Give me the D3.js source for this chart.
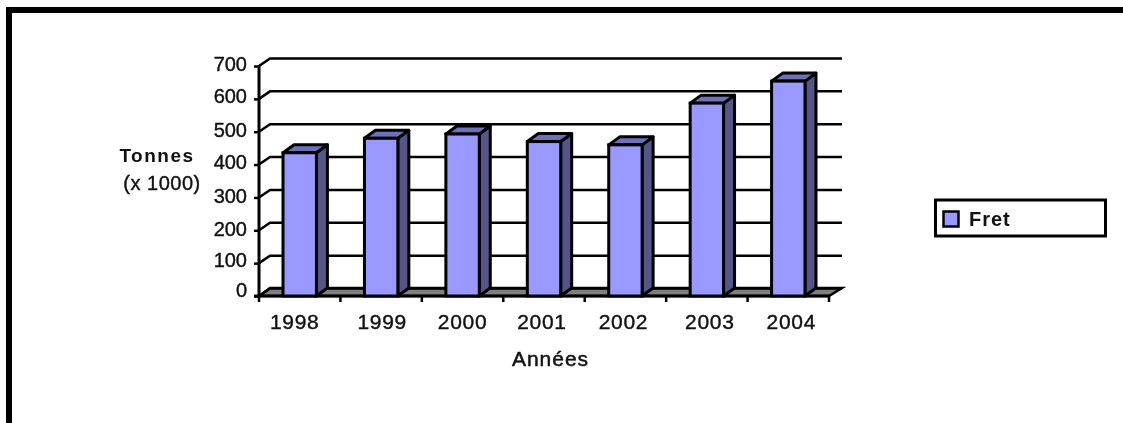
<!DOCTYPE html>
<html>
<head>
<meta charset="utf-8">
<script src="https://d3js.org/d3.v7.min.js"></script>
<style>
html, body { margin: 0; padding: 0; background: #fff; }
svg { display: block; filter: blur(0.4px); }
text { font-family: "Liberation Sans", Arial, sans-serif; fill: #111; }
</style>
</head>
<body>
<script>
const years = ["1998", "1999", "2000", "2001", "2002", "2003", "2004"];
const fret = [436, 480, 493, 470, 460, 587, 654];
const yTicks = [0, 100, 200, 300, 400, 500, 600, 700];

const svgWidth = 1123;
const svgHeight = 423;
const depthX = 11; //3D offset of the chart's back wall
const depthY = 8;
const axisRight = 829;

//The original labels are not evenly placed, these nudge them by a few pixels.
const xLabelNudge = [-5, 1, 0, -2, -2, 3, 3];
const yLabelNudge = [-6, -3, -1, -1, -2, -2, -3, -2];

const xScale = d3.scaleBand().domain(years).range([259, axisRight]).paddingInner(0.59).paddingOuter(0.295);
const yScale = d3.scaleLinear().domain([0, 700]).range([296, 66]);

const svg = d3.select("body").append("svg")
  .attr("width", svgWidth)
  .attr("height", svgHeight);

//Page frame, only top and left are visible.
svg.append("path")
  .attr("d", "M9,423V10H1123")
  .attr("fill", "none")
  .attr("stroke", "#000")
  .attr("stroke-width", 6);

//Floor of the 3D box.
svg.append("path")
  .attr("d", `M259,${yScale(0)}l${depthX},${-depthY}H${axisRight + depthX + 2}l${-depthX - 2},${depthY}Z`)
  .attr("fill", "#808080")
  .attr("stroke", "#000")
  .attr("stroke-width", 2.5);

//Gridlines with their slanted part on the side wall.
svg.append("g").selectAll("path")
  .data(yTicks)
  .enter()
  .append("path")
  .attr("d", (d) => `M259,${yScale(d)}l${depthX},${-depthY + 0.5}H${axisRight + depthX + 2}`)
  .attr("fill", "none")
  .attr("stroke", "#000")
  .attr("stroke-width", 2.5);

//Axes.
const yAxis = d3.axisLeft(yScale).tickValues(yTicks).tickSize(5).tickPadding(7);
const xAxis = d3.axisBottom(xScale).tickSize(0).tickPadding(18);

const yG = svg.append("g").attr("transform", "translate(259,0)").call(yAxis);
const xG = svg.append("g").attr("transform", "translate(0,296)").call(xAxis);

[yG, xG].forEach((g) => {
  g.selectAll("path.domain").attr("stroke", "#000").attr("stroke-width", 3);
  g.selectAll("line").attr("stroke", "#000").attr("stroke-width", 2.5);
  g.selectAll("text")
    .attr("font-size", 20)
    .attr("font-family", null)
    .attr("stroke", "#111")
    .attr("stroke-width", 0.4);
});
yG.select("path.domain").attr("d", "M0,65V297");
xG.select("path.domain").attr("d", `M254,0H${axisRight + 1}`);

yG.selectAll("text").attr("y", (d, i) => yLabelNudge[i]);
xG.selectAll("text")
  .attr("x", (d, i) => xLabelNudge[i])
  .attr("font-size", 21)
  .attr("letter-spacing", 0.7);

//Category ticks sit between the bars.
const step = xScale.step();
svg.append("g").selectAll("line")
  .data(d3.range(years.length + 1))
  .enter()
  .append("line")
  .attr("x1", (i) => 259 + i * step)
  .attr("x2", (i) => 259 + i * step)
  .attr("y1", 296)
  .attr("y2", 302)
  .attr("stroke", "#000")
  .attr("stroke-width", 2.5);

//Bars: side, top, then front.
const bars = svg.append("g").selectAll("g")
  .data(years.map((y, i) => ({ year: y, value: fret[i] })))
  .enter()
  .append("g");

bars.append("path")
  .attr("d", (d) => {
    const x = xScale(d.year) + xScale.bandwidth();
    const top = yScale(d.value);
    return `M${x},${top}l${depthX},${-depthY}V${yScale(0) - depthY}L${x},${yScale(0)}Z`;
  })
  .attr("fill", "#55558a")
  .attr("stroke", "#000")
  .attr("stroke-width", 3)
  .attr("stroke-linejoin", "round");

bars.append("path")
  .attr("d", (d) => {
    const x = xScale(d.year);
    const top = yScale(d.value);
    return `M${x},${top}l${depthX},${-depthY}h${xScale.bandwidth()}l${-depthX},${depthY}Z`;
  })
  .attr("fill", "#7070b8")
  .attr("stroke", "#000")
  .attr("stroke-width", 3)
  .attr("stroke-linejoin", "round");

bars.append("rect")
  .attr("x", (d) => xScale(d.year))
  .attr("y", (d) => yScale(d.value))
  .attr("width", xScale.bandwidth())
  .attr("height", (d) => yScale(0) - yScale(d.value))
  .attr("fill", "#9999ff")
  .attr("stroke", "#000")
  .attr("stroke-width", 3);

//Axis titles.
svg.append("text")
  .attr("x", 157)
  .attr("y", 162)
  .attr("text-anchor", "middle")
  .attr("font-size", 19)
  .attr("font-weight", "bold")
  .attr("letter-spacing", 1.5)
  .text("Tonnes");

svg.append("text")
  .attr("x", 162)
  .attr("y", 190)
  .attr("text-anchor", "middle")
  .attr("font-size", 20)
  .attr("letter-spacing", 0.5)
  .attr("stroke", "#111")
  .attr("stroke-width", 0.4)
  .text("(x 1000)");

svg.append("text")
  .attr("x", 550.5)
  .attr("y", 366)
  .attr("text-anchor", "middle")
  .attr("font-size", 21)
  .attr("letter-spacing", 1)
  .attr("stroke", "#111")
  .attr("stroke-width", 0.5)
  .text("Années");

//Legend.
svg.append("rect")
  .attr("x", 935.5)
  .attr("y", 200)
  .attr("width", 170)
  .attr("height", 36)
  .attr("fill", "#fff")
  .attr("stroke", "#000")
  .attr("stroke-width", 3);

svg.append("rect")
  .attr("x", 943.5)
  .attr("y", 211.5)
  .attr("width", 15)
  .attr("height", 15)
  .attr("fill", "#9999ff")
  .attr("stroke", "#000")
  .attr("stroke-width", 2.5);

svg.append("text")
  .attr("x", 969)
  .attr("y", 226)
  .attr("font-size", 20)
  .attr("font-weight", "bold")
  .attr("letter-spacing", 1)
  .text("Fret");
</script>
</body>
</html>
